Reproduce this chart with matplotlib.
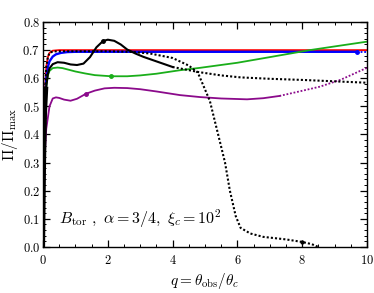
import matplotlib
matplotlib.use("Agg")
import matplotlib.pyplot as plt
from matplotlib.ticker import MultipleLocator, FuncFormatter

plt.rcParams['mathtext.fontset'] = 'cm'
plt.rcParams['font.family'] = 'serif'
plt.rcParams['font.serif'] = ['DejaVu Serif']

# red curve
q_red = [0, 0.03, 0.06, 0.1, 0.15, 0.2, 0.3, 0.5, 1, 10]
y_red = [0, 0.35, 0.55, 0.64, 0.675, 0.69, 0.698, 0.70, 0.70, 0.70]

# blue curve (solid, then dotted after the marker)
q_blue = [0, 0.03, 0.06, 0.1, 0.15, 0.2, 0.3, 0.4, 0.55, 0.75, 1, 2, 9.7]
y_blue = [0, 0.3, 0.5, 0.6, 0.64, 0.66, 0.677, 0.685, 0.69, 0.693, 0.694, 0.694, 0.694]
q_blue_dot = [9.7, 10]
y_blue_dot = [0.694, 0.694]
mark_blue = (9.7, 0.694)

# green curve
q_green = [0, 0.03, 0.06, 0.1, 0.15, 0.2, 0.3, 0.45, 0.6, 0.8, 1.0, 1.3, 1.6, 2.1,
           2.6, 3.0, 3.5, 4.2, 4.85, 6, 7, 8.24, 9, 10]
y_green = [0, 0.3, 0.48, 0.57, 0.61, 0.626, 0.636, 0.638, 0.636, 0.63, 0.624, 0.617,
           0.611, 0.607, 0.607, 0.610, 0.616, 0.628, 0.637, 0.655, 0.675, 0.70, 0.713, 0.73]
mark_green = (2.1, 0.607)

# purple curve
q_purp = [0, 0.03, 0.06, 0.1, 0.15, 0.2, 0.3, 0.4, 0.5, 0.65, 0.85, 1.05, 1.33, 1.6,
          1.9, 2.2, 2.6, 3.0, 3.5, 4.23, 4.85, 5.5, 6.3, 6.8, 7.3]
y_purp = [0, 0.2, 0.34, 0.42, 0.46, 0.5, 0.528, 0.532, 0.53, 0.524, 0.52, 0.527, 0.545,
          0.556, 0.564, 0.566, 0.565, 0.561, 0.553, 0.54, 0.533, 0.528, 0.525, 0.529, 0.537]
q_purp_dot = [7.3, 7.8, 8.55, 9.2, 10]
y_purp_dot = [0.537, 0.55, 0.57, 0.595, 0.637]
mark_purp = (1.33, 0.545)

# black solid curve, dotted tail
q_k1 = [0, 0.03, 0.06, 0.1, 0.15, 0.2, 0.3, 0.45, 0.65, 0.85, 1.05, 1.25, 1.45, 1.65,
        1.85, 2.0, 2.2, 2.4, 2.6, 2.85, 3.1, 3.5, 4.0]
y_k1 = [0, 0.3, 0.48, 0.57, 0.615, 0.635, 0.65, 0.657, 0.655, 0.649, 0.647, 0.652,
        0.675, 0.71, 0.732, 0.737, 0.733, 0.72, 0.702, 0.688, 0.676, 0.66, 0.64]
q_k1_dot = [4.0, 4.8, 5.5, 6.1, 7, 8, 9, 10]
y_k1_dot = [0.64, 0.622, 0.61, 0.603, 0.598, 0.594, 0.589, 0.584]
mark_k1 = (1.85, 0.732)

# black dotted curve with the steep drop
q_k2 = [0, 0.03, 0.06, 0.1, 0.15, 0.2, 0.3, 0.5, 1, 2, 2.7, 3.3, 4.0, 4.5, 4.78, 5.15,
        5.45, 5.62, 5.77, 5.95, 6.1, 6.4, 6.8, 7.5, 8.0, 8.3, 8.5]
y_k2 = [0, 0.35, 0.55, 0.64, 0.675, 0.69, 0.695, 0.696, 0.696, 0.696, 0.694, 0.688,
        0.672, 0.645, 0.62, 0.52, 0.38, 0.30, 0.20, 0.11, 0.068, 0.048, 0.036, 0.027,
        0.018, 0.01, 0.0]
mark_k2 = (8.0, 0.018)

red = '#ff0000'
blue = '#0000ff'
green = '#1aae1a'
purple = '#8b0a8b'

fig = plt.figure(figsize=(3.74, 2.93), dpi=100)
ax = fig.add_axes([0.115, 0.157, 0.866, 0.768])

ax.plot(q_red, y_red, color=red, lw=1.3)
ax.plot(q_blue, y_blue, color=blue, lw=1.7)
ax.plot(q_blue_dot, y_blue_dot, color=blue, lw=1.3, ls=(0, (1, 1)))
ax.plot(*mark_blue, 'o', color=blue, ms=2.5)
ax.plot(q_green, y_green, color=green, lw=1.3)
ax.plot(*mark_green, 'o', color=green, ms=2.5)
ax.plot(q_purp, y_purp, color=purple, lw=1.3)
ax.plot(q_purp_dot, y_purp_dot, color=purple, lw=1.3, ls=(0, (1, 1)))
ax.plot(*mark_purp, 'o', color=purple, ms=2.5)
ax.plot(q_k2, y_k2, color='black', lw=1.5, ls=(0, (1, 1)))
ax.plot(*mark_k2, 'o', color='black', ms=2.0)
ax.plot(q_k1, y_k1, color='black', lw=1.5)
ax.plot(q_k1_dot, y_k1_dot, color='black', lw=1.5, ls=(0, (1, 1)))
ax.plot(*mark_k1, 'o', color='black', ms=2.5)
# the steep rise at q~0 shows as a thick black band
ax.plot(q_k1[:4], y_k1[:4], color='black', lw=3.0, solid_capstyle='butt')

ax.set_xlim(0, 10)
ax.set_ylim(0, 0.8)
ax.xaxis.set_major_locator(MultipleLocator(2))
ax.xaxis.set_minor_locator(MultipleLocator(0.5))
ax.yaxis.set_major_locator(MultipleLocator(0.1))
ax.yaxis.set_minor_locator(MultipleLocator(0.02))
ax.xaxis.set_major_formatter(FuncFormatter(lambda v, p: r'$%d$' % round(v)))
ax.yaxis.set_major_formatter(FuncFormatter(lambda v, p: r'$%.1f$' % v))
ax.tick_params(which='both', direction='in', top=True, right=True, labelsize=9)
ax.tick_params(which='major', length=5, width=0.9)
ax.tick_params(which='minor', length=2.5, width=0.7)
ax.tick_params(axis='x', pad=5)
ax.tick_params(axis='y', pad=2)
for s in ax.spines.values():
    s.set_linewidth(1.0)

ax.set_xlabel(r'$q=\theta_{\rm obs}/\theta_c$', fontsize=11, labelpad=3)
ax.set_ylabel(r'$\Pi/\Pi_{\rm max}$', fontsize=11, labelpad=2)
ax.text(0.5, 0.1, r'$B_{\rm tor}\ ,\ \alpha=3/4,\ \xi_c=10^2$', fontsize=11.5,
        va='center', ha='left')

fig.savefig('out.png', dpi=100)
